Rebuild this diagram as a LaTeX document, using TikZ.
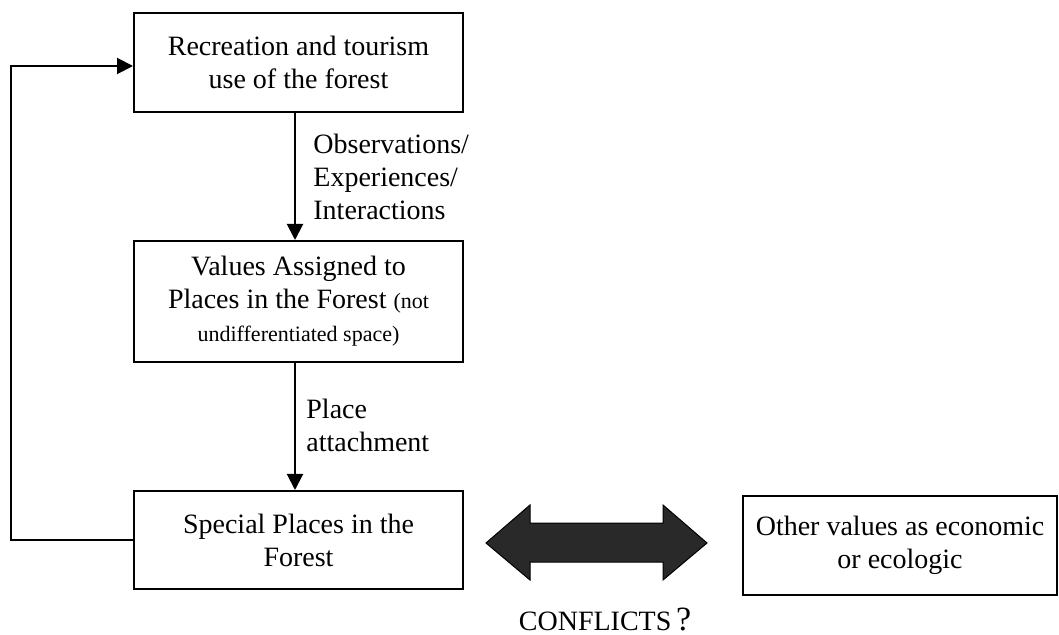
\documentclass[tikz,border=0pt]{standalone}
\usepackage{fontspec}
\setmainfont{Liberation Serif}
\usetikzlibrary{arrows.meta}
\newcommand\boxfont{\fontsize{14}{16.5}\selectfont}
\newcommand\smallnote{\fontsize{11}{15}\selectfont}
\tikzset{
  box/.style={draw, line width=1pt, align=center, inner sep=0pt, font=\boxfont},
  conn/.style={line width=1pt, -{Triangle[length=8pt,width=8pt]}},
  lbl/.style={align=left, inner sep=0pt, font=\boxfont, anchor=west},
  bigarrow/.style={fill=black!84, draw=black, line width=0.5pt, line join=miter}
}
\begin{document}
\begin{tikzpicture}[x=0.5pt,y=-0.5pt]
\useasboundingbox (0,0) rectangle (1059,635);

% process boxes
\node[box, minimum width=164.5pt, minimum height=49.5pt] (b1) at (298.5,62.5)
  {Recreation and tourism\\use of the forest};
\node[box, minimum width=164.5pt, minimum height=60.5pt] (b2) at (298.5,301.5)
  {Values Assigned to\\Places in the Forest {\smallnote(not}\\{\smallnote undifferentiated space)}};
\node[box, minimum width=164.5pt, minimum height=49pt] (b3) at (298.5,540)
  {Special Places in the\\Forest};
\node[box, minimum width=157pt, minimum height=49.5pt] (b4) at (900,545.5)
  {Other values as economic\\or ecologic};

% downward flow
\draw[conn] ([xshift=-1.75pt]b1.south) -- ([xshift=-1.75pt]b2.north);
\draw[conn] ([xshift=-1.75pt]b2.south) -- ([xshift=-1.75pt]b3.north);

% feedback loop
\draw[conn] (b3.west) -- ++(-122,0) |- ([yshift=-1.75pt]b1.west);

% arrow labels
\node[lbl] (l1) at (313,177) {Observations/\\Experiences/\\Interactions};
\node[lbl] (l2) at (306,425) {Place\\attachment};

% conflict double arrow
\draw[bigarrow] (486,543) -- (530,505) -- (530,523) -- (663,523) -- (663,505)
  -- (707,543) -- (663,580) -- (663,562) -- (530,562) -- (530,580) -- cycle;
\node[anchor=base, inner sep=0pt, font=\boxfont] (conf) at (605,630)
  {CONFLICTS\,{\fontsize{17}{17}\selectfont ?}};
\end{tikzpicture}
\end{document}
